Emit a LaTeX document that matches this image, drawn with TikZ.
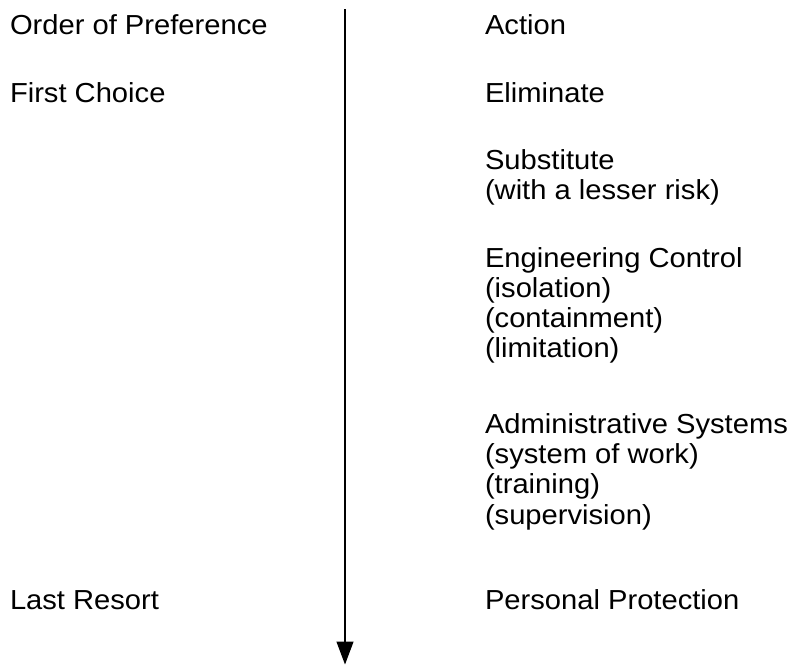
\documentclass[tikz,border=0pt]{standalone}
\usepackage{fontspec}
\setmainfont{Liberation Sans}
\usetikzlibrary{arrows.meta}
\begin{document}
\begin{tikzpicture}[x=1pt,y=-1pt,
  lbl/.style={anchor=base west,inner sep=0pt,outer sep=0pt,font=\fontsize{27.5}{31}\selectfont,xscale=1.06},
  axis/.style={line width=1.2pt,-{Triangle[length=23pt,width=17pt]}}]
\useasboundingbox (0,0) rectangle (794,665);
\node[lbl] (pref) at (10,34) {Order of Preference};
\node[lbl] (first) at (10,102) {First Choice};
\node[lbl] (last) at (10,609) {Last Resort};
\node[lbl] (action) at (485,34) {Action};
\node[lbl] (elim) at (485,102) {Eliminate};
\node[lbl] (subst) at (485,169) {Substitute};
\node[lbl] (subst2) at (485,199) {(with a lesser risk)};
\node[lbl] (eng) at (485,267) {Engineering Control};
\node[lbl] (eng2) at (485,297) {(isolation)};
\node[lbl] (eng3) at (485,327) {(containment)};
\node[lbl] (eng4) at (485,357) {(limitation)};
\node[lbl] (adm) at (485,433) {Administrative Systems};
\node[lbl] (adm2) at (485,463) {(system of work)};
\node[lbl] (adm3) at (485,493) {(training)};
\node[lbl] (adm4) at (485,524) {(supervision)};
\node[lbl] (pers) at (485,609) {Personal Protection};
\coordinate (top) at (345,9);
\coordinate (bot) at (345,664.5);
\draw[axis] (top) -- (bot);
\end{tikzpicture}
\end{document}
